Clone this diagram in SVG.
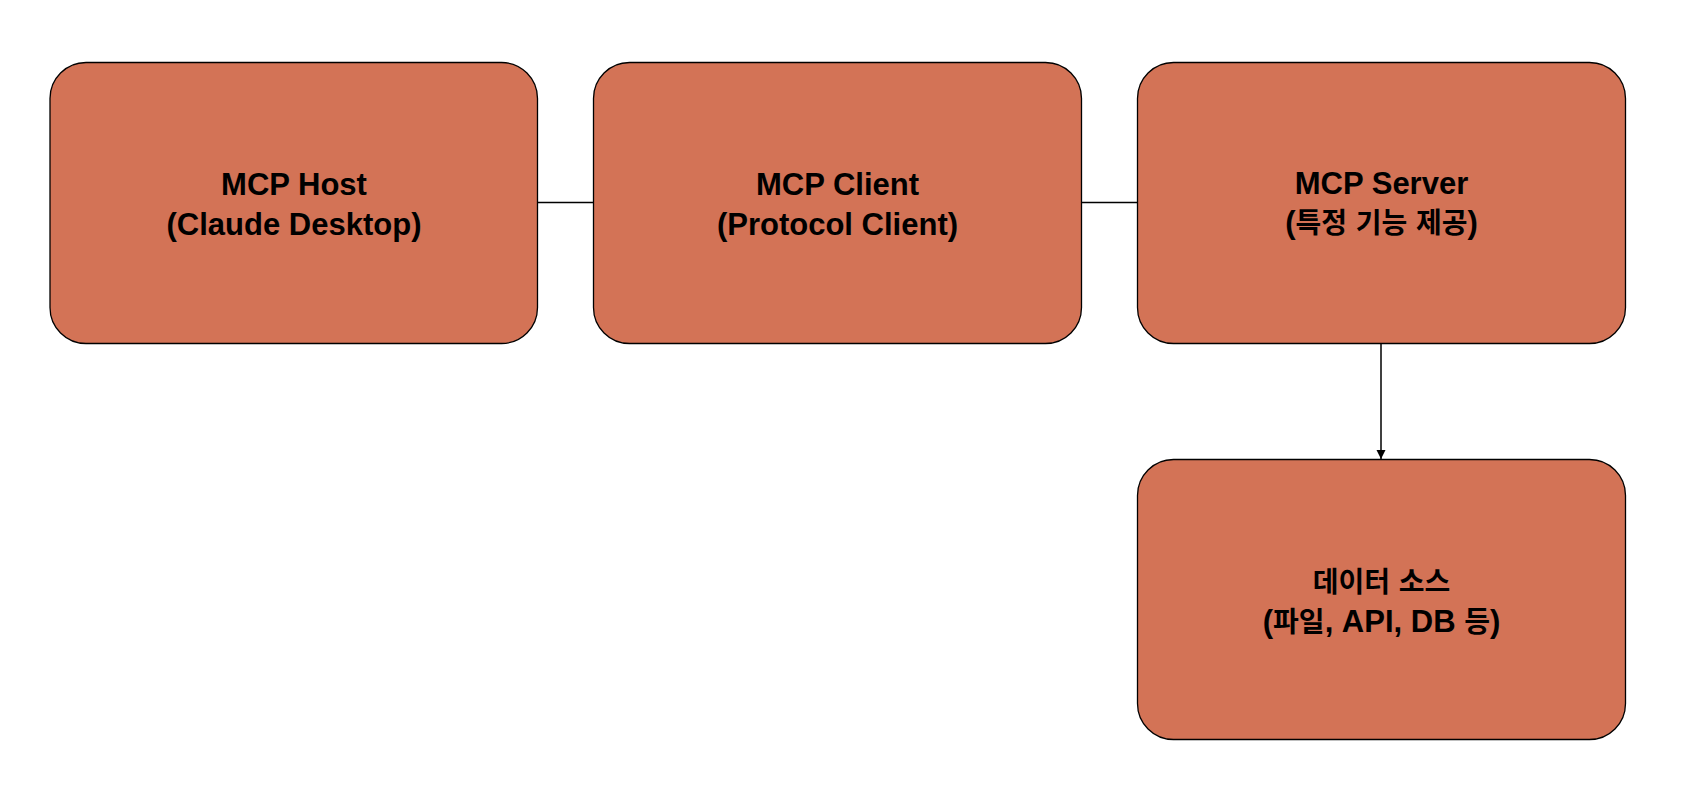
<svg xmlns="http://www.w3.org/2000/svg" width="1687" height="805" viewBox="0 0 1687 805">
<style>
.box{fill:#D37356;stroke:#000;stroke-width:1.3}
.t{font-family:"Liberation Sans","Noto Sans CJK KR",Arial,sans-serif;font-weight:bold;font-size:31px;fill:#000;text-anchor:middle}
.ko{font-family:"Noto Sans CJK KR",sans-serif;font-size:28px}
.c{stroke:#000;stroke-width:1.5;fill:none}
</style>
<defs>
<marker id="arr" markerWidth="10" markerHeight="10" refX="9" refY="5" orient="auto" markerUnits="userSpaceOnUse">
<path d="M0,0.5 L9,5 L0,9.5 Z" fill="#000"/>
</marker>
</defs>
<rect width="1687" height="805" fill="#fff"/>
<g id="connectors">
<line class="c" x1="537.5" y1="202.5" x2="593.5" y2="202.5"/>
<line class="c" x1="1081.5" y1="202.5" x2="1137.5" y2="202.5"/>
<line class="c" x1="1381" y1="343.5" x2="1381" y2="459" marker-end="url(#arr)"/>
</g>
<g id="host">
<rect class="box" x="50" y="62.5" width="487.5" height="281" rx="36" ry="36"/>
<text class="t" x="294" y="195">MCP Host</text>
<text class="t" x="294" y="234.5">(Claude Desktop)</text>
</g>
<g id="client">
<rect class="box" x="593.5" y="62.5" width="488" height="281" rx="36" ry="36"/>
<text class="t" x="837.5" y="195">MCP Client</text>
<text class="t" x="837.5" y="234.5">(Protocol Client)</text>
</g>
<g id="server">
<rect class="box" x="1137.5" y="62.5" width="488" height="281" rx="36" ry="36"/>
<text class="t" x="1381.5" y="194">MCP Server</text>
<text class="t" x="1381.5" y="233">(<tspan class="ko">특정</tspan> <tspan class="ko">기능</tspan> <tspan class="ko">제공</tspan>)</text>
</g>
<g id="datasource">
<rect class="box" x="1137.5" y="459.5" width="488" height="280" rx="36" ry="36"/>
<text class="t" x="1381.5" y="592"><tspan class="ko">데이터</tspan> <tspan class="ko">소스</tspan></text>
<text class="t" x="1381.5" y="632">(<tspan class="ko">파일</tspan>, API, DB <tspan class="ko">등</tspan>)</text>
</g>
</svg>
